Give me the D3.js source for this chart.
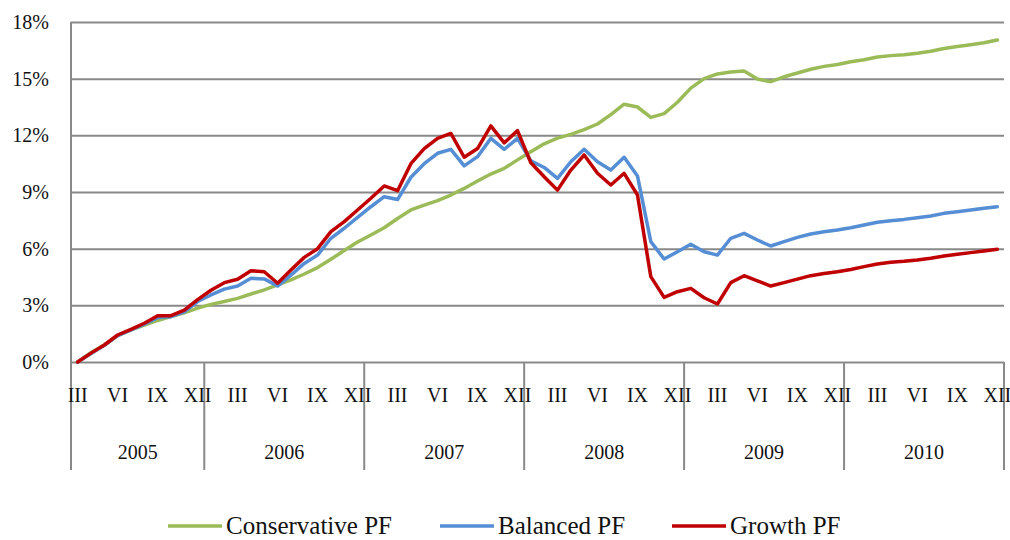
<!DOCTYPE html>
<html>
<head>
<meta charset="utf-8">
<script src="https://cdn.jsdelivr.net/npm/d3@7"></script>
<style>
  body { margin: 0; background: #fff; }
  svg { display: block; font-family: "Liberation Serif", "Times New Roman", serif; }
</style>
</head>
<body>
<div id="chart"></div>
<script>
// categories: 2005 starts in March, the other years are full
const years = ['2005', '2006', '2007', '2008', '2009', '2010'];
const monthNames = ['I', 'II', 'III', 'IV', 'V', 'VI', 'VII', 'VIII', 'IX', 'X', 'XI', 'XII'];
const shownMonths = ['III', 'VI', 'IX', 'XII'];
const firstMonth = 2; // March 2005

const yTicks = [0, 3, 6, 9, 12, 15, 18];

const conservative = [
  0, 0.5, 0.9, 1.4, 1.7, 1.95, 2.2, 2.4, 2.6, 2.85,
  3.05, 3.2, 3.37, 3.6, 3.82, 4.08, 4.35, 4.66, 5.0, 5.44, 5.9, 6.35,
  6.72, 7.11, 7.6, 8.05, 8.3, 8.54, 8.84, 9.19, 9.58, 9.95, 10.25, 10.7,
  11.13, 11.55, 11.85, 12.05, 12.3, 12.6, 13.1, 13.65, 13.5, 12.95, 13.15, 13.75,
  14.5, 15.0, 15.25, 15.35, 15.4, 14.98, 14.84, 15.1, 15.3, 15.5, 15.65, 15.75,
  15.9, 16.0, 16.15, 16.22, 16.27, 16.35, 16.45, 16.6, 16.7, 16.8, 16.9, 17.05
];
const balanced = [
  0, 0.45, 0.88, 1.4, 1.7, 2.0, 2.35, 2.4, 2.65, 3.2,
  3.55, 3.86, 4.02, 4.43, 4.4, 4.02, 4.6, 5.22, 5.66, 6.55, 7.08, 7.66,
  8.22, 8.75, 8.6, 9.78, 10.5, 11.05, 11.26, 10.38, 10.87, 11.84, 11.26, 11.84,
  10.65, 10.3, 9.72, 10.6, 11.26, 10.6, 10.16, 10.84, 9.85, 6.37, 5.45, 5.84,
  6.23, 5.84, 5.66, 6.55, 6.81, 6.46, 6.14, 6.37, 6.6, 6.78, 6.9, 6.99,
  7.11, 7.25, 7.4, 7.48, 7.55, 7.64, 7.73, 7.87, 7.96, 8.05, 8.14, 8.22
];
const growth = [
  0, 0.47, 0.9, 1.43, 1.73, 2.05, 2.45, 2.45, 2.75, 3.3,
  3.8, 4.2, 4.38, 4.83, 4.78, 4.17, 4.87, 5.54, 6.0, 6.9, 7.43, 8.05,
  8.67, 9.32, 9.07, 10.5, 11.3, 11.84, 12.1, 10.84, 11.3, 12.5, 11.6, 12.25,
  10.55, 9.81, 9.1, 10.16, 10.96, 9.99, 9.37, 9.99, 8.84, 4.52, 3.42, 3.72,
  3.9, 3.4, 3.07, 4.2, 4.57, 4.3, 4.02, 4.2, 4.39, 4.57, 4.69, 4.78,
  4.9, 5.05, 5.19, 5.28, 5.33, 5.4, 5.49, 5.61, 5.7, 5.79, 5.88, 5.97
];

const seriesNames = ['Conservative PF', 'Balanced PF', 'Growth PF'];
const seriesColors = ['#9BBB59', '#558ED5', '#C00000'];

// build the category list (year, month)
const categories = [];
years.forEach((yr, yi) => {
  const start = yi === 0 ? firstMonth : 0;
  for (let m = start; m < 12; m++) {
    categories.push({ key: yr + '-' + m, year: yr, month: monthNames[m] });
  }
});

const width = 1010, height = 540;
const margin = { left: 71, right: 1004, top: 22, bottom: 362 };
const gridColor = '#898989';
const textColor = '#111';

const svg = d3.select('#chart').append('svg')
  .attr('width', width)
  .attr('height', height);

const x = d3.scaleBand()
  .domain(categories.map(d => d.key))
  .range([margin.left, margin.right])
  .padding(0);
const xc = (i) => x(categories[i].key) + x.bandwidth() / 2;

const y = d3.scaleLinear().domain([0, 18]).range([margin.bottom, margin.top]);

// horizontal gridlines + y labels
const yAxis = d3.axisLeft(y)
  .tickValues(yTicks)
  .tickSize(-(margin.right - margin.left))
  .tickPadding(22)
  .tickFormat(d => d + '%');

svg.append('g')
  .attr('transform', `translate(${margin.left},0)`)
  .call(yAxis)
  .call(g => g.select('.domain').remove())
  .call(g => g.selectAll('.tick line').attr('stroke', gridColor).attr('stroke-width', 2))
  .call(g => g.selectAll('.tick text')
    .attr('fill', textColor)
    .style('font-size', '20px')
    .style('font-family', '"Liberation Serif", serif'));

// left axis line runs down through the category rows
svg.append('line')
  .attr('x1', margin.left).attr('x2', margin.left)
  .attr('y1', margin.top).attr('y2', 470)
  .attr('stroke', gridColor).attr('stroke-width', 2);

// year separators
const yearBounds = years.map(yr => {
  const idx = categories.map(d => d.year).lastIndexOf(yr);
  return x(categories[idx].key) + x.bandwidth();
});
svg.selectAll('.sep')
  .data(yearBounds)
  .enter().append('line')
  .attr('class', 'sep')
  .attr('x1', d => d).attr('x2', d => d)
  .attr('y1', margin.bottom).attr('y2', 470)
  .attr('stroke', gridColor).attr('stroke-width', 2);

// month labels
svg.append('g').selectAll('text')
  .data(categories.filter(d => shownMonths.includes(d.month)))
  .enter().append('text')
  .attr('x', d => x(d.key) + x.bandwidth() / 2)
  .attr('y', 395)
  .attr('dy', '0.35em')
  .attr('text-anchor', 'middle')
  .attr('fill', textColor)
  .style('font-size', '20px')
  .text(d => d.month);

// year labels
svg.append('g').selectAll('text')
  .data(years)
  .enter().append('text')
  .attr('x', (d, i) => ((i === 0 ? margin.left : yearBounds[i - 1]) + yearBounds[i]) / 2)
  .attr('y', 452)
  .attr('dy', '0.35em')
  .attr('text-anchor', 'middle')
  .attr('fill', textColor)
  .style('font-size', '20px')
  .text(d => d);

// lines
const line = d3.line()
  .x((d, i) => xc(i))
  .y(d => y(d));

[conservative, balanced, growth].forEach((s, k) => {
  svg.append('path')
    .datum(s)
    .attr('fill', 'none')
    .attr('stroke', seriesColors[k])
    .attr('stroke-width', 3.5)
    .attr('stroke-linejoin', 'round')
    .attr('stroke-linecap', 'round')
    .attr('d', line);
});

// legend (sits right on the bottom edge, like the original)
const legendX = [168, 440, 672];
const legendY = 526;
const legend = svg.append('g');
seriesNames.forEach((name, k) => {
  legend.append('line')
    .attr('x1', legendX[k]).attr('x2', legendX[k] + 54)
    .attr('y1', legendY).attr('y2', legendY)
    .attr('stroke', seriesColors[k])
    .attr('stroke-width', 3.5);
  legend.append('text')
    .attr('x', legendX[k] + 58)
    .attr('y', legendY)
    .attr('dy', '0.3em')
    .attr('fill', textColor)
    .style('font-size', '25px')
    .text(name);
});
</script>
</body>
</html>
